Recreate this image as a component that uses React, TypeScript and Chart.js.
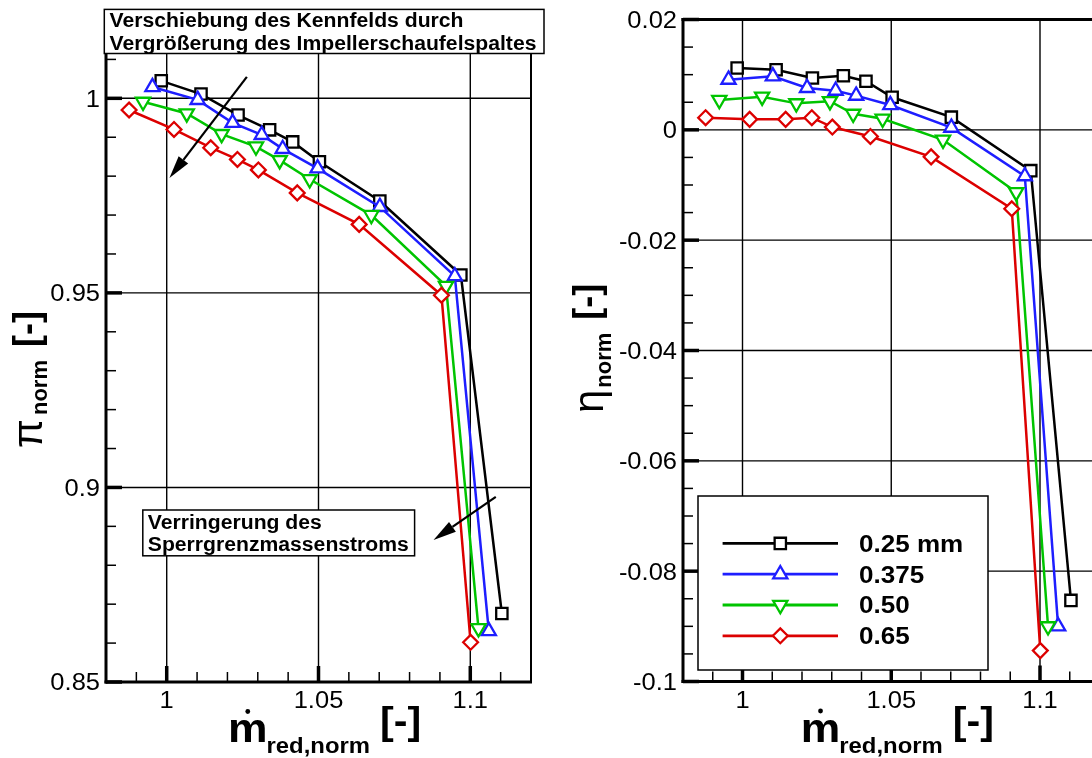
import React, { useEffect, useRef } from 'react';
import { Chart, registerables } from 'chart.js';

Chart.register(...registerables);

const FONT = '"Liberation Sans", Arial, Helvetica, sans-serif';
const SX = 1.085; // horizontal widening applied to all horizontal text

// Normalised reduced mass flow for each impeller blade tip clearance
const massFlow025 = [0.9982, 1.0113, 1.0235, 1.0339, 1.0415, 1.0503, 1.0702, 1.0969, 1.1104];
const massFlow0375 = [0.9953, 1.0102, 1.0217, 1.0313, 1.0382, 1.0497, 1.0702, 1.0949, 1.1061];
const massFlow050 = [0.9922, 1.0066, 1.0181, 1.0294, 1.0372, 1.0471, 1.0674, 1.092, 1.1027];
const massFlow065 = [0.9876, 1.0024, 1.0145, 1.0233, 1.0302, 1.043, 1.0634, 1.0905, 1.1001];

// Normalised total pressure ratio
const pi025 = [1.0045, 1.0011, 0.9957, 0.9919, 0.9888, 0.9837, 0.9736, 0.9546, 0.8676];
const pi0375 = [1.0029, 0.9996, 0.9937, 0.9906, 0.987, 0.982, 0.9721, 0.9543, 0.8631];
const pi050 = [0.9991, 0.9961, 0.9908, 0.9876, 0.9841, 0.9792, 0.97, 0.9518, 0.8638];
const pi065 = [0.997, 0.992, 0.9873, 0.9843, 0.9816, 0.9757, 0.9676, 0.9494, 0.8602];

// Normalised isentropic efficiency
const eta025 = [0.0112, 0.0109, 0.0094, 0.0098, 0.0088, 0.0059, 0.0023, -0.0074, -0.0853];
const eta0375 = [0.0091, 0.0097, 0.0076, 0.0071, 0.0062, 0.0045, 0.0004, -0.0084, -0.09];
const eta050 = [0.0054, 0.006, 0.0048, 0.0052, 0.0029, 0.002, -0.0018, -0.0113, -0.09];
const eta065 = [0.0022, 0.0019, 0.0019, 0.0022, 0.0005, -0.0012, -0.0049, -0.0143, -0.0944];

const seriesLabels = ['0.25 mm', '0.375', '0.50', '0.65'];
const seriesColors = ['#000000', '#1e1eff', '#00c400', '#dc0000'];

const massFlowTicks = [1, 1.05, 1.1];
const massFlowTickLabels = ['1', '1.05', '1.1'];
const piTicks = [0.85, 0.9, 0.95, 1];
const piTickLabels = ['0.85', '0.9', '0.95', '1'];
const etaTicks = [0.02, 0, -0.02, -0.04, -0.06, -0.08, -0.1];
const etaTickLabels = ['0.02', '0', '-0.02', '-0.04', '-0.06', '-0.08', '-0.1'];

// Annotation arrows in data coordinates of the pressure-ratio map: [x, y]
const shiftArrowFrom = [1.0264, 1.0055];
const shiftArrowTo = [1.0009, 0.9795];
const chokeArrowFrom = [1.1084, 0.8976];
const chokeArrowTo = [1.0879, 0.8865];

const massFlowSeries = [massFlow025, massFlow0375, massFlow050, massFlow065];
const piSeries = [pi025, pi0375, pi050, pi065];
const etaSeries = [eta025, eta0375, eta050, eta065];

const markerStyles = [
  { pointStyle: 'rect', rotation: 0, radius: 8 },
  { pointStyle: 'triangle', rotation: 0, radius: 8.2 },
  { pointStyle: 'triangle', rotation: 180, radius: 8.2 },
  { pointStyle: 'rectRot', rotation: 0, radius: 7.4 },
];

function makeDatasets(xsList: number[][], ysList: number[][]) {
  return xsList.map((xs, i) => ({
    label: seriesLabels[i],
    data: xs.map((x, j) => ({ x, y: ysList[i][j] })),
    showLine: true,
    borderColor: seriesColors[i],
    borderWidth: 2.5,
    pointStyle: markerStyles[i].pointStyle,
    pointRotation: markerStyles[i].rotation,
    pointRadius: markerStyles[i].radius,
    pointBorderWidth: 2.3,
    pointBorderColor: seriesColors[i],
    pointBackgroundColor: '#ffffff',
    order: xsList.length - i,
  }));
}

function minorValues(min: number, max: number, step: number, majors: number[]) {
  const out: number[] = [];
  const k0 = Math.ceil(min / step - 1e-6);
  const k1 = Math.floor(max / step + 1e-6);
  for (let k = k0; k <= k1; k++) {
    const v = k * step;
    if (!majors.some((m) => Math.abs(m - v) < step * 1e-3)) out.push(v);
  }
  return out;
}

function wideText(ctx: CanvasRenderingContext2D, text: string, x: number, y: number, align: string, font: string, sx = SX) {
  ctx.font = font;
  const w = ctx.measureText(text).width * sx;
  const x0 = align === 'left' ? x : align === 'right' ? x - w : x - w / 2;
  ctx.save();
  ctx.translate(x0, y);
  ctx.scale(sx, 1);
  ctx.textAlign = 'left';
  ctx.textBaseline = 'alphabetic';
  ctx.fillText(text, 0, 0);
  ctx.restore();
  return w;
}

function line(ctx: CanvasRenderingContext2D, x1: number, y1: number, x2: number, y2: number) {
  ctx.beginPath();
  ctx.moveTo(x1, y1);
  ctx.lineTo(x2, y2);
  ctx.stroke();
}

function drawMarker(ctx: CanvasRenderingContext2D, style: string, rotation: number, r: number, x: number, y: number) {
  ctx.beginPath();
  if (style === 'rect') {
    const s = r * Math.SQRT1_2;
    ctx.rect(x - s, y - s, 2 * s, 2 * s);
  } else if (style === 'triangle') {
    let rad = (rotation * Math.PI) / 180;
    for (let k = 0; k < 3; k++) {
      const px = x + Math.sin(rad) * r;
      const py = y - Math.cos(rad) * r;
      if (k === 0) ctx.moveTo(px, py);
      else ctx.lineTo(px, py);
      rad += (2 * Math.PI) / 3;
    }
    ctx.closePath();
  } else {
    ctx.moveTo(x - r, y);
    ctx.lineTo(x, y - r);
    ctx.lineTo(x + r, y);
    ctx.lineTo(x, y + r);
    ctx.closePath();
  }
  ctx.fill();
  ctx.stroke();
}

function drawArrow(ctx: CanvasRenderingContext2D, x1: number, y1: number, x2: number, y2: number) {
  const len = 23;
  const half = 6;
  const ang = Math.atan2(y2 - y1, x2 - x1);
  const bx = x2 - Math.cos(ang) * len;
  const by = y2 - Math.sin(ang) * len;
  ctx.save();
  ctx.strokeStyle = '#000';
  ctx.fillStyle = '#000';
  ctx.lineWidth = 2.2;
  line(ctx, x1, y1, bx, by);
  ctx.beginPath();
  ctx.moveTo(x2, y2);
  ctx.lineTo(bx + Math.sin(ang) * half, by - Math.cos(ang) * half);
  ctx.lineTo(bx - Math.sin(ang) * half, by + Math.cos(ang) * half);
  ctx.closePath();
  ctx.fill();
  ctx.restore();
}

function noteBox(ctx: CanvasRenderingContext2D, x: number, y: number, w: number, h: number, lines: string[], tx: number, baselines: number[]) {
  ctx.save();
  ctx.fillStyle = '#fff';
  ctx.fillRect(x, y, w, h);
  ctx.strokeStyle = '#000';
  ctx.lineWidth = 1.5;
  ctx.strokeRect(x, y, w, h);
  ctx.fillStyle = '#000';
  lines.forEach((t, i) => wideText(ctx, t, tx, baselines[i], 'left', `bold 19.5px ${FONT}`));
  ctx.restore();
}

function drawMassFlowTitle(ctx: CanvasRenderingContext2D, a: any) {
  const cx = (a.left + a.right) / 2;
  const x0 = cx - 90.5;
  const base = a.bottom + 60;
  ctx.save();
  ctx.fillStyle = '#000';
  const wm = wideText(ctx, 'm', x0, base, 'left', `bold 41px ${FONT}`);
  ctx.beginPath();
  ctx.arc(x0 + wm / 2, base - 30.5, 2.4, 0, Math.PI * 2);
  ctx.fill();
  const ws = wideText(ctx, 'red,norm', x0 + wm - 1, base + 11, 'left', `bold 22px ${FONT}`);
  wideText(ctx, '[-]', x0 + wm - 1 + ws + 10, base - 8, 'left', `bold 38px ${FONT}`);
  ctx.restore();
}

type Part = { text: string; font: string; v: number; gap: number };

function drawRotatedTitle(ctx: CanvasRenderingContext2D, startY: number, parts: Part[]) {
  ctx.save();
  ctx.fillStyle = '#000';
  ctx.translate(0, startY);
  ctx.rotate(-Math.PI / 2);
  ctx.textAlign = 'left';
  ctx.textBaseline = 'alphabetic';
  let u = 0;
  for (const p of parts) {
    u += p.gap;
    ctx.font = p.font;
    ctx.fillText(p.text, u, p.v);
    u += ctx.measureText(p.text).width;
  }
  ctx.restore();
}

type AxisSpec = {
  xTicks: number[];
  xLabels: string[];
  xMinor: number;
  yTicks: number[];
  yLabels: string[];
  yMinor: number;
  decorate: (ctx: CanvasRenderingContext2D, a: any, xs: any, ys: any) => void;
};

function axisFramePlugin(spec: AxisSpec) {
  return {
    id: 'axisFrame',
    beforeDatasetsDraw(chart: any) {
      const { ctx, chartArea: a, scales } = chart;
      const xs = scales.x;
      const ys = scales.y;
      ctx.save();
      ctx.strokeStyle = '#000';
      ctx.lineWidth = 1.4;
      for (const v of spec.xTicks) {
        const px = xs.getPixelForValue(v);
        line(ctx, px, a.top, px, a.bottom);
      }
      for (const v of spec.yTicks) {
        const py = ys.getPixelForValue(v);
        line(ctx, a.left, py, a.right, py);
      }
      ctx.restore();
    },
    afterDatasetsDraw(chart: any) {
      const { ctx, chartArea: a, scales } = chart;
      const xs = scales.x;
      const ys = scales.y;
      ctx.save();
      ctx.strokeStyle = '#000';
      ctx.fillStyle = '#000';
      // minor ticks, pointing inwards
      ctx.lineWidth = 1.5;
      for (const v of minorValues(xs.min, xs.max, spec.xMinor, spec.xTicks)) {
        const px = xs.getPixelForValue(v);
        line(ctx, px, a.bottom, px, a.bottom - 10);
      }
      for (const v of minorValues(ys.min, ys.max, spec.yMinor, spec.yTicks)) {
        const py = ys.getPixelForValue(v);
        line(ctx, a.left, py, a.left + 10, py);
      }
      // major ticks
      ctx.lineWidth = 3.5;
      for (const v of spec.xTicks) {
        const px = xs.getPixelForValue(v);
        line(ctx, px, a.bottom, px, a.bottom - 16);
      }
      for (const v of spec.yTicks) {
        const py = ys.getPixelForValue(v);
        line(ctx, a.left, py, a.left + 16, py);
      }
      // frame
      ctx.lineWidth = 2;
      line(ctx, a.right, a.top, a.right, a.bottom);
      ctx.lineWidth = 3;
      line(ctx, a.left - 1.5, a.top, a.right + 1, a.top);
      line(ctx, a.left, a.top - 1.5, a.left, a.bottom + 1.5);
      line(ctx, a.left - 1.5, a.bottom, a.right + 1, a.bottom);
      // tick labels
      spec.xTicks.forEach((v, i) => {
        wideText(ctx, spec.xLabels[i], xs.getPixelForValue(v), a.bottom + 26, 'center', `23.5px ${FONT}`);
      });
      spec.yTicks.forEach((v, i) => {
        wideText(ctx, spec.yLabels[i], a.left - 6, ys.getPixelForValue(v) + 8.4, 'right', `23.5px ${FONT}`);
      });
      spec.decorate(ctx, a, xs, ys);
      ctx.restore();
    },
  };
}

function baseOptions(padding: any, yMin: number, yMax: number) {
  return {
    responsive: false,
    animation: false,
    devicePixelRatio: 1,
    events: [],
    layout: { padding },
    scales: {
      x: { type: 'linear', display: false, min: 0.98, max: 1.12 },
      y: { type: 'linear', display: false, min: yMin, max: yMax },
    },
    plugins: { legend: { display: false }, tooltip: { enabled: false } },
  };
}

function pressureRatioConfig(): any {
  return {
    type: 'scatter',
    data: { datasets: makeDatasets(massFlowSeries, piSeries) },
    options: baseOptions({ left: 106, right: 15, top: 20.5, bottom: 76 }, 0.85, 1.02),
    plugins: [
      axisFramePlugin({
        xTicks: massFlowTicks,
        xLabels: massFlowTickLabels,
        xMinor: 0.01,
        yTicks: piTicks,
        yLabels: piTickLabels,
        yMinor: 0.01,
        decorate(ctx, a, xs, ys) {
          drawMassFlowTitle(ctx, a);
          drawRotatedTitle(ctx, 448, [
            { text: 'π', font: `42px ${FONT}`, v: 41.7, gap: 0 },
            { text: 'norm', font: `bold 22px ${FONT}`, v: 46.7, gap: 4 },
            { text: '[-]', font: `bold 36px ${FONT}`, v: 39.1, gap: 13 },
          ]);
          noteBox(ctx, 104.3, 9.4, 439.7, 44.1,
            ['Verschiebung des Kennfelds durch', 'Vergrößerung des Impellerschaufelspaltes'], 109.6, [27.4, 49.5]);
          noteBox(ctx, 142.8, 510, 271.8, 45.8,
            ['Verringerung des', 'Sperrgrenzmassenstroms'], 147.8, [529, 550.8]);
          drawArrow(ctx, xs.getPixelForValue(shiftArrowFrom[0]), ys.getPixelForValue(shiftArrowFrom[1]),
            xs.getPixelForValue(shiftArrowTo[0]), ys.getPixelForValue(shiftArrowTo[1]));
          drawArrow(ctx, xs.getPixelForValue(chokeArrowFrom[0]), ys.getPixelForValue(chokeArrowFrom[1]),
            xs.getPixelForValue(chokeArrowTo[0]), ys.getPixelForValue(chokeArrowTo[1]));
        },
      }),
    ],
  };
}

function efficiencyConfig(): any {
  return {
    type: 'scatter',
    data: { datasets: makeDatasets(massFlowSeries, etaSeries) },
    options: baseOptions({ left: 137, right: 10, top: 19.5, bottom: 76.5 }, -0.1, 0.02),
    plugins: [
      axisFramePlugin({
        xTicks: massFlowTicks,
        xLabels: massFlowTickLabels,
        xMinor: 0.01,
        yTicks: etaTicks,
        yLabels: etaTickLabels,
        yMinor: 0.005,
        decorate(ctx, a) {
          drawMassFlowTitle(ctx, a);
          drawRotatedTitle(ctx, 413, [
            { text: 'η', font: `42px ${FONT}`, v: 56.5, gap: 0 },
            { text: 'norm', font: `bold 22px ${FONT}`, v: 64.6, gap: 2 },
            { text: '[-]', font: `bold 36px ${FONT}`, v: 53.4, gap: 13 },
          ]);
          // legend
          const bx = 152;
          const by = 496;
          ctx.save();
          ctx.fillStyle = '#fff';
          ctx.fillRect(bx, by, 290, 174);
          ctx.strokeStyle = '#000';
          ctx.lineWidth = 1.5;
          ctx.strokeRect(bx, by, 290, 174);
          seriesLabels.forEach((label, i) => {
            const ry = by + 47.4 + i * 30.8;
            ctx.strokeStyle = seriesColors[i];
            ctx.lineWidth = 2.8;
            line(ctx, bx + 24.6, ry, bx + 140, ry);
            ctx.lineWidth = 2.3;
            ctx.fillStyle = '#fff';
            const m = markerStyles[i];
            drawMarker(ctx, m.pointStyle, m.rotation, m.radius, bx + 82.3, ry);
            ctx.fillStyle = '#000';
            wideText(ctx, label, bx + 161, ry + 8.3, 'left', `bold 24px ${FONT}`);
          });
          ctx.restore();
        },
      }),
    ],
  };
}

function ChartCanvas({ left, width, height, build }: { left: number; width: number; height: number; build: () => any }) {
  const ref = useRef<HTMLCanvasElement>(null);
  useEffect(() => {
    const chart = new Chart(ref.current as HTMLCanvasElement, build());
    return () => chart.destroy();
  }, []);
  return (
    <canvas
      ref={ref}
      width={width}
      height={height}
      style={{ position: 'absolute', left, top: 0, width, height, display: 'block' }}
    />
  );
}

export default function App() {
  return (
    <div
      style={{
        position: 'fixed',
        left: 0,
        top: 0,
        width: 1092,
        height: 758,
        overflow: 'hidden',
        background: '#ffffff',
      }}
    >
      <ChartCanvas left={0} width={546} height={758} build={pressureRatioConfig} />
      <ChartCanvas left={546} width={564} height={758} build={efficiencyConfig} />
    </div>
  );
}
